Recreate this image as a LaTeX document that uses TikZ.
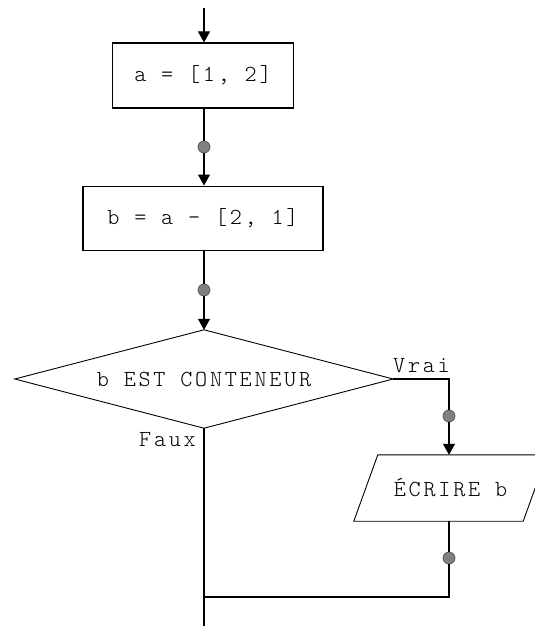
\documentclass[tikz,border=0pt]{standalone}
\usepackage{fontspec}
\usetikzlibrary{arrows.meta}
\newfontfamily\flowtt[LetterSpace=12]{Latin Modern Mono Light}
\newcommand{\flowfont}{\flowtt\fontsize{23pt}{26pt}\selectfont}
\tikzset{
  flow/.style={line width=1.1pt, black},
  arr/.style={flow, -{Triangle[width=12pt,length=11pt]}},
  procbox/.style={draw, flow, fill=white, minimum height=65pt, inner sep=0pt},
  dot/.style={circle, draw=black!65, fill=black!50, line width=0.8pt, minimum size=12pt, inner sep=0pt},
  txt/.style={font=\flowfont},
  lbl/.style={font=\flowfont, inner sep=0pt}
}
\begin{document}
\begin{tikzpicture}[x=1pt, y=-1pt]
\clip (0,0) rectangle (535,626);
\fill[white] (0,0) rectangle (535,626);
\coordinate (start) at (204,8);
\node[procbox, txt, minimum width=181pt] (b1) at (203,75.5) {a = [1, 2]};
\node[dot] (d1) at (204,147) {};
\node[procbox, txt, minimum width=240pt, minimum height=64.5pt] (b2) at (203,218.3) {b = a - [2, 1]};
\node[dot] (d2) at (204,290) {};
\node[txt, minimum width=378pt, minimum height=98pt, inner sep=0pt] (c) at (204,379) {b EST CONTENEUR};
\draw[flow, line width=0.9pt] (c.west) -- (c.north) -- (c.east) -- (c.south) -- cycle;
\coordinate (vr) at (449,379);
\node[dot] (d3) at (449,416) {};
\node[txt, minimum width=169pt, minimum height=66pt, inner sep=0pt] (p) at (450.5,488) {ÉCRIRE b};
\draw[flow, line width=0.9pt] ([xshift=-12pt]p.south west) -- ([xshift=-12pt]p.south east) -- ([xshift=12pt]p.north east) -- ([xshift=12pt]p.north west) -- cycle;
\node[dot] (d4) at (449,558) {};
\coordinate (cr) at (449,597);
\coordinate (jn) at (204,597);
\coordinate (end) at (204,626);
\node[lbl, anchor=south west] (vl) at (393,373) {Vrai};
\node[lbl, anchor=north east] (fl) at (196,432) {Faux};

\draw[arr] (start) -- (start |- b1.north);
\draw[flow] (d1 |- b1.south) -- (d1);
\draw[arr] (d1) -- (d1 |- b2.north);
\draw[flow] (d2 |- b2.south) -- (d2);
\draw[arr] (d2) -- (c.north);
\draw[flow] (c.east) -- (vr) -- (d3);
\draw[arr] (d3) -- (d3 |- p.north);
\draw[flow] (d4 |- p.south) -- (d4);
\draw[flow] (d4) -- (cr) -- (jn);
\draw[flow] (c.south) -- (end);
\end{tikzpicture}
\end{document}
